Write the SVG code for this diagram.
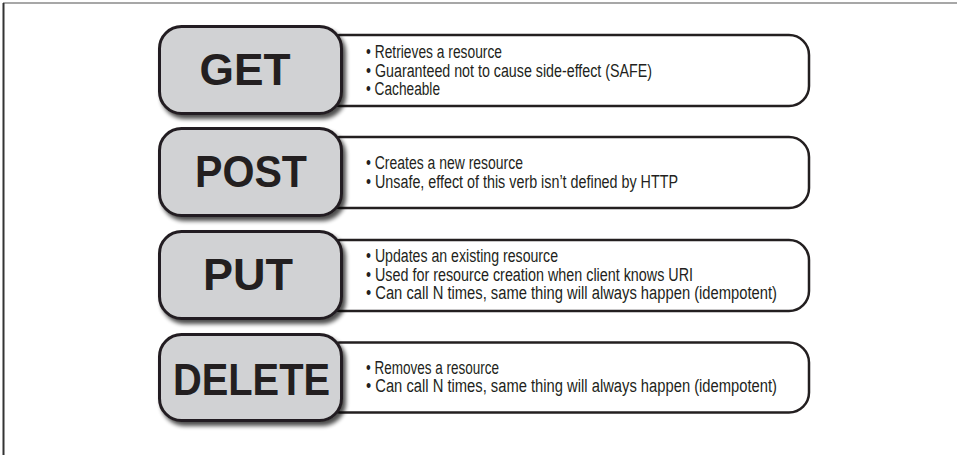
<svg xmlns="http://www.w3.org/2000/svg" width="957" height="455" viewBox="0 0 957 455">
  <defs>
    <filter id="shadow" x="-10%" y="-10%" width="130%" height="140%">
      <feGaussianBlur in="SourceAlpha" stdDeviation="2"/>
      <feOffset dx="3" dy="4" result="b"/>
      <feComponentTransfer><feFuncA type="linear" slope="0.7"/></feComponentTransfer>
      <feMerge><feMergeNode/><feMergeNode in="SourceGraphic"/></feMerge>
    </filter>
  </defs>
  <style>
    .desc { fill: #ffffff; stroke: #231f20; stroke-width: 2.5; }
    .verb { fill: #d1d2d4; stroke: #231f20; stroke-width: 3; }
    .label { font-family: "Liberation Sans", Arial, sans-serif; font-weight: bold; font-size: 45px; fill: #231f20; text-anchor: middle; }
    .item { font-family: "Liberation Sans", Arial, sans-serif; font-size: 18px; fill: #231f20; }
  </style>
  <rect width="957" height="455" fill="#ffffff"/>
  <line x1="3" y1="3" x2="957" y2="3" stroke="#8a8a8a" stroke-width="1.5"/>
  <line x1="3.5" y1="3" x2="3.5" y2="455" stroke="#333333" stroke-width="2"/>

  <g id="get">
    <rect class="desc" x="320" y="35" width="489" height="71" rx="20"/>
    <rect class="verb" x="159.5" y="26.5" width="182" height="87" rx="22" filter="url(#shadow)"/>
    <text class="label" x="245" y="85" textLength="91" lengthAdjust="spacingAndGlyphs">GET</text>
    <text class="item" x="366" y="57.5" textLength="136" lengthAdjust="spacingAndGlyphs">• Retrieves a resource</text>
    <text class="item" x="366" y="76.5" textLength="286" lengthAdjust="spacingAndGlyphs">• Guaranteed not to cause side-effect (SAFE)</text>
    <text class="item" x="366" y="95" textLength="74" lengthAdjust="spacingAndGlyphs">• Cacheable</text>
  </g>

  <g id="post">
    <rect class="desc" x="320" y="137" width="489" height="71" rx="20"/>
    <rect class="verb" x="159.5" y="128.5" width="182" height="87" rx="22" filter="url(#shadow)"/>
    <text class="label" x="251" y="187" textLength="112" lengthAdjust="spacingAndGlyphs">POST</text>
    <text class="item" x="366" y="169" textLength="157" lengthAdjust="spacingAndGlyphs">• Creates a new resource</text>
    <text class="item" x="366" y="188" textLength="312" lengthAdjust="spacingAndGlyphs">• Unsafe, effect of this verb isn’t defined by HTTP</text>
  </g>

  <g id="put">
    <rect class="desc" x="320" y="240" width="489" height="71" rx="20"/>
    <rect class="verb" x="159.5" y="231.5" width="182" height="87" rx="22" filter="url(#shadow)"/>
    <text class="label" x="248" y="290" textLength="90" lengthAdjust="spacingAndGlyphs">PUT</text>
    <text class="item" x="366" y="262" textLength="192" lengthAdjust="spacingAndGlyphs">• Updates an existing resource</text>
    <text class="item" x="366" y="280.5" textLength="327" lengthAdjust="spacingAndGlyphs">• Used for resource creation when client knows URI</text>
    <text class="item" x="366" y="299" textLength="411" lengthAdjust="spacingAndGlyphs">• Can call N times, same thing will always happen (idempotent)</text>
  </g>

  <g id="delete">
    <rect class="desc" x="320" y="342.5" width="489" height="70" rx="20"/>
    <rect class="verb" x="159.5" y="334.5" width="182" height="86" rx="22" filter="url(#shadow)"/>
    <text class="label" x="251.5" y="395" textLength="157" lengthAdjust="spacingAndGlyphs">DELETE</text>
    <text class="item" x="366" y="373.5" textLength="133" lengthAdjust="spacingAndGlyphs">• Removes a resource</text>
    <text class="item" x="366" y="392" textLength="411" lengthAdjust="spacingAndGlyphs">• Can call N times, same thing will always happen (idempotent)</text>
  </g>

  <g id="connectors"/>
</svg>
